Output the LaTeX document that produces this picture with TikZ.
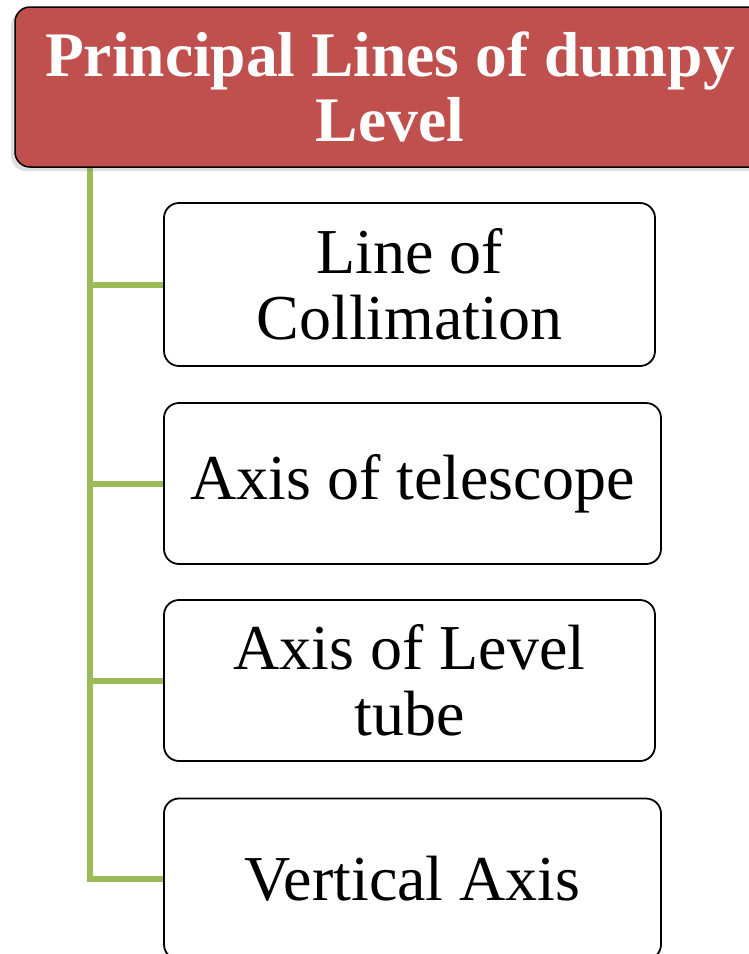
\documentclass[tikz,border=0pt]{standalone}
\usepackage{fontspec}
\setmainfont{Liberation Serif}
\usetikzlibrary{shadows,backgrounds}
\definecolor{headred}{HTML}{C0504D}
\definecolor{conngreen}{HTML}{9BBB59}
\begin{document}
\begin{tikzpicture}[x=1pt,y=-1pt,
  headbox/.style={draw=black, line width=1.5pt, fill=headred, rounded corners=15pt,
    text=white, font=\bfseries\fontsize{63.5}{65}\selectfont, align=center,
    minimum width=750pt, minimum height=160pt, inner sep=0pt,
    drop shadow={shadow xshift=-4pt, shadow yshift=-4pt, opacity=0.25, fill=gray}},
  itembox/.style={draw=black, line width=1.8pt, fill=white, rounded corners=15pt,
    font=\fontsize{64}{66}\selectfont, align=center, inner sep=0pt,
    minimum height=161pt},
  conn/.style={draw=conngreen, line width=6pt}
]
\useasboundingbox (0,0) rectangle (749,954);
\node[headbox] (head) at (390,87) {Principal Lines of dumpy\\Level};
\node[itembox, minimum width=491pt, minimum height=163pt] (b1) at (409.5,284.5) {Line of\\Collimation};
\node[itembox, minimum width=497pt] (b2) at (412.5,483.5) {Axis of telescope};
\node[itembox, minimum width=491pt] (b3) at (409.5,680.5) {Axis of Level\\tube};
\node[itembox, minimum width=497pt] (b4) at (412.5,879) {Vertical Axis};
\coordinate (top) at (90,167);
\begin{scope}[on background layer]
\draw[conn] (top) |- (b4.west);
\draw[conn] (top |- b1.west) -- (b1.west);
\draw[conn] (top |- b2.west) -- (b2.west);
\draw[conn] (top |- b3.west) -- (b3.west);
\end{scope}
\end{tikzpicture}
\end{document}
